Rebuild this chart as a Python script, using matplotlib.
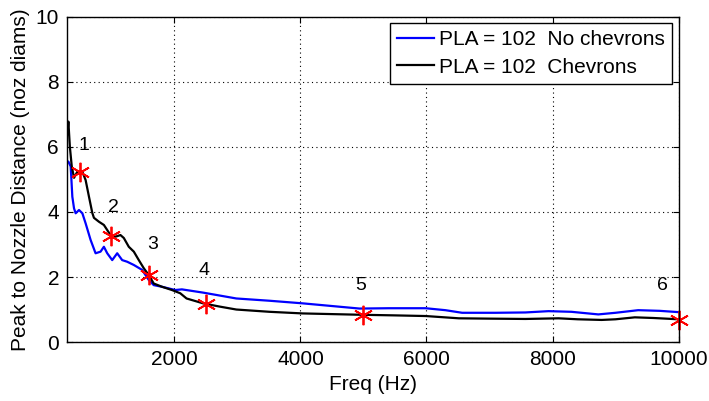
import matplotlib
matplotlib.use('Agg')
import matplotlib.pyplot as plt

plt.rcParams['font.family'] = ['Liberation Sans', 'DejaVu Sans']

# PLA = 102, no chevrons (blue)
freq_nochev = [300, 316, 353, 379, 406, 432, 485, 538, 590, 669, 748, 827, 880, 933,
               1012, 1091, 1170, 1249, 1355, 1486, 1592, 1671, 1802, 2013, 2118, 2455,
               2982, 3510, 4036, 4937, 5400, 5987, 6300, 6566, 7100, 7568, 7937, 8300,
               8727, 9000, 9360, 9700, 10000]
dist_nochev = [5.55, 5.55, 5.4, 4.47, 4.11, 3.96, 4.06, 3.96, 3.65, 3.14, 2.73, 2.78, 2.93, 2.73,
               2.52, 2.73, 2.52, 2.47, 2.37, 2.22, 1.91, 1.75, 1.7, 1.6, 1.62, 1.52,
               1.34, 1.27, 1.19, 1.03, 1.04, 1.04, 0.98, 0.9, 0.9, 0.91, 0.95, 0.93,
               0.85, 0.9, 0.98, 0.96, 0.92]

# PLA = 102, chevrons (black)
freq_chev = [300, 316, 340, 370, 406, 459, 537, 590, 643, 696, 722, 801, 880, 985,
             1064, 1143, 1196, 1275, 1355, 1434, 1513, 1592, 1671, 1802, 1960, 2092,
             2192, 2455, 2719, 2982, 3510, 4036, 4937, 5500, 5987, 6514, 7000, 7568,
             8095, 8400, 8780, 9000, 9307, 9600, 10000]
dist_chev = [6.4, 6.78, 6.0, 5.4, 5.05, 5.24, 5.24, 4.98, 4.47, 3.97, 3.82, 3.7, 3.6, 3.29,
             3.24, 3.29, 3.2, 2.93, 2.78, 2.52, 2.27, 2.06, 1.8, 1.7, 1.6, 1.5,
             1.34, 1.19, 1.09, 1.0, 0.93, 0.88, 0.84, 0.82, 0.8, 0.73, 0.72, 0.71,
             0.73, 0.7, 0.68, 0.7, 0.76, 0.74, 0.7]

# marked points and their numbers
mark_freq = [500, 1000, 1600, 2500, 5000, 10000]
mark_dist = [5.24, 3.27, 2.05, 1.18, 0.84, 0.68]
mark_labels = ['1', '2', '3', '4', '5', '6']
label_freq = [570, 1030, 1660, 2470, 4950, 9750]
label_dist = [6.05, 4.15, 3.0, 2.2, 1.75, 1.75]

fig = plt.figure(figsize=(7.09, 4.01), dpi=100)
ax = fig.add_axes([0.095, 0.147, 0.862, 0.811])

ax.plot(freq_nochev, dist_nochev, color='#0000ff', lw=1.6, label='PLA = 102  No chevrons')
ax.plot(freq_chev, dist_chev, color='black', lw=1.6, label='PLA = 102  Chevrons')
ax.plot(mark_freq, mark_dist, linestyle='none', marker=(6, 2, 0), markersize=14,
        color='red', markeredgewidth=1.3, clip_on=False)
for fx, fy, t in zip(label_freq, label_dist, mark_labels):
    ax.text(fx, fy, t, fontsize=14, ha='center', va='center')

ax.set_xlim(300, 10000)
ax.set_ylim(0, 10)
ax.set_xticks([2000, 4000, 6000, 8000, 10000])
ax.set_yticks([0, 2, 4, 6, 8, 10])
ax.tick_params(direction='in', top=True, right=True, labelsize=15, length=4, pad=6)
ax.grid(True, linestyle=(0, (1, 3)), color='black', lw=0.8)
for s in ax.spines.values():
    s.set_linewidth(1)

ax.set_xlabel('Freq (Hz)', fontsize=15, labelpad=4)
ax.set_ylabel('Peak to Nozzle Distance (noz diams)', fontsize=15, labelpad=4)

leg = ax.legend(loc='upper right', fontsize=15, fancybox=False, framealpha=1,
                edgecolor='black', borderaxespad=0.3, handlelength=1.75,
                handletextpad=0.25, borderpad=0.35, labelspacing=0.4)
leg.get_frame().set_linewidth(1)

plt.savefig('out.png', dpi=100)
